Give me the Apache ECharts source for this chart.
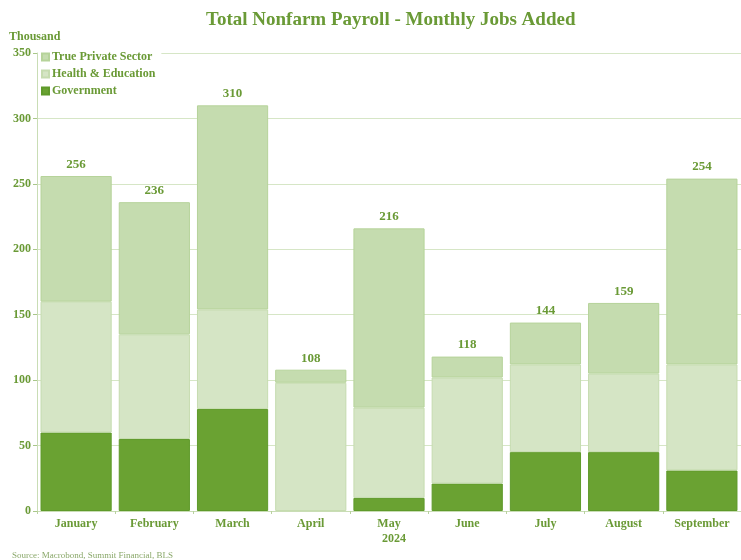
<!DOCTYPE html>
<html>
<head>
<meta charset="utf-8">
<script src="https://cdn.jsdelivr.net/npm/echarts@6/dist/echarts.min.js"></script>
<style>
  html, body { margin: 0; padding: 0; background: #fff; }
  #chart { width: 741px; height: 560px; }
</style>
</head>
<body>
<div id="chart"></div>
<script>
// months of 2024
const months = ['January', 'February', 'March', 'April', 'May', 'June', 'July', 'August', 'September']
// thousand jobs
const government = [60, 55, 78, 0, 10, 21, 45, 45, 31]
const healthEdu = [100, 80, 76, 98, 69, 81, 67, 60, 81]
const truePrivate = [96, 101, 156, 10, 137, 16, 32, 54, 142]
const totals = [256, 236, 310, 108, 216, 118, 144, 159, 254]
const yTicks = [0, 50, 100, 150, 200, 250, 300, 350]

const green = '#6a9a36'
const serif = '"Liberation Serif", "DejaVu Serif", serif'

const chart = echarts.init(document.getElementById('chart'))

// a zero segment would still draw its border, so leave it empty
const noZero = arr => arr.map(v => (v === 0 ? '-' : v))

const option = {
    animation: false,
    textStyle: { fontFamily: serif },
    title: {
        text: 'Total Nonfarm Payroll - Monthly Jobs Added',
        left: 201,
        top: 6,
        textStyle: { fontFamily: serif, fontSize: 19, fontWeight: 'bold', color: green }
    },
    legend: {
        orient: 'vertical',
        left: 38,
        top: 48,
        itemGap: 5,
        itemWidth: 7,
        itemHeight: 7,
        padding: [3, 6, 3, 3],
        backgroundColor: '#fff',
        icon: 'rect',
        textStyle: { fontFamily: serif, fontSize: 12, fontWeight: 'bold', color: green, padding: [0, 0, 0, -2] },
        data: ['True Private Sector', 'Health & Education', 'Government']
    },
    grid: { left: 37, right: -7, top: 53, bottom: 49 },
    xAxis: {
        type: 'category',
        data: months,
        axisLine: { lineStyle: { color: '#c9ddb5' } },
        axisTick: { show: true, length: 3, lineStyle: { color: '#b9d29f' } },
        axisLabel: { fontFamily: serif, fontSize: 12, fontWeight: 'bold', color: green, margin: 7 }
    },
    yAxis: {
        type: 'value',
        min: yTicks[0],
        max: yTicks[yTicks.length - 1],
        interval: 50,
        name: 'Thousand',
        nameLocation: 'end',
        nameGap: 10,
        nameTextStyle: { fontFamily: serif, fontSize: 12, fontWeight: 'bold', color: green, align: 'left', padding: [0, 0, 0, -28] },
        axisLine: { show: true, lineStyle: { color: '#c9ddb5' } },
        axisTick: { show: true, length: 4, lineStyle: { color: '#a9c78a' } },
        axisLabel: { fontFamily: serif, fontSize: 12, fontWeight: 'bold', color: green, margin: 6 },
        splitLine: { lineStyle: { color: '#d6e6c6' } }
    },
    graphic: [
        {
            type: 'text',
            left: 382,
            top: 533,
            style: { text: '2024', font: 'bold 12px ' + serif, fill: green }
        },
        {
            type: 'text',
            left: 12,
            top: 551,
            style: { text: 'Source: Macrobond, Summit Financial, BLS', font: '9px ' + serif, fill: '#8aa86a' }
        }
    ],
    series: [
        {
            name: 'Government',
            type: 'bar',
            stack: 'jobs',
            barCategoryGap: '9%',
            data: noZero(government),
            itemStyle: { color: '#6aa232', borderColor: '#5f9a2a', borderWidth: 1 }
        },
        {
            name: 'Health & Education',
            type: 'bar',
            stack: 'jobs',
            data: noZero(healthEdu),
            itemStyle: { color: '#d5e5c5', borderColor: '#c6dcb0', borderWidth: 1 }
        },
        {
            name: 'True Private Sector',
            type: 'bar',
            stack: 'jobs',
            data: truePrivate,
            itemStyle: { color: '#c5dcaf', borderColor: '#b6d39a', borderWidth: 1 },
            label: {
                show: true,
                position: 'top',
                distance: 5,
                fontFamily: serif,
                fontSize: 13,
                fontWeight: 'bold',
                color: green,
                formatter: p => totals[p.dataIndex]
            }
        }
    ]
}

chart.setOption(option)
</script>
</body>
</html>
